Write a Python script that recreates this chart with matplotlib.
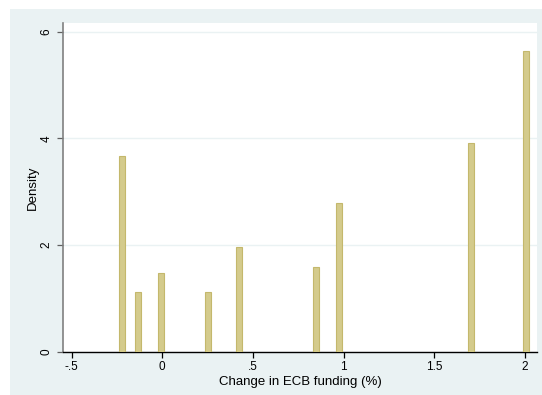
import matplotlib
matplotlib.use("Agg")
import matplotlib.pyplot as plt
from matplotlib.patches import Rectangle

# Data (bin centres and densities)
bin_centers = [-0.221, -0.133, -0.006, 0.250, 0.421, 0.849, 0.976, 1.704, 2.004]
densities = [3.67, 1.12, 1.48, 1.11, 1.96, 1.59, 2.79, 3.92, 5.64]
bin_width = 0.033

x_ticks = [-0.5, 0, 0.5, 1, 1.5, 2]
x_tick_labels = ["-.5", "0", ".5", "1", "1.5", "2"]
y_ticks = [0, 2, 4, 6]

plt.rcParams['font.family'] = ['Liberation Sans', 'DejaVu Sans']
plt.rcParams['font.size'] = 8.5

bg = '#eaf2f3'
fig = plt.figure(figsize=(5.42, 3.95), dpi=100, facecolor='white')
# light outer region (the picture has a thin white strip left and top)
fig.patches.append(Rectangle((10 / 542, 0), 1 - 10 / 542, 1 - 9 / 395,
                             transform=fig.transFigure, facecolor=bg,
                             edgecolor='none', zorder=-10))

ax = fig.add_axes([63.3 / 542, 1 - 351.7 / 395, (537.3 - 63.3) / 542, (351.7 - 23.3) / 395])
ax.set_facecolor('white')

ax.bar(bin_centers, densities, width=bin_width, color='#d4cb8c',
       edgecolor='#c4b86c', linewidth=0.8, zorder=3)

ax.set_xlim(-0.546, 2.068)
ax.set_ylim(0, 6.157)

ax.set_xticks(x_ticks)
ax.set_xticklabels(x_tick_labels)
ax.set_yticks(y_ticks)
ax.set_yticklabels([str(v) for v in y_ticks], rotation=90, va='center')

ax.yaxis.grid(True, color=bg, linewidth=1.0, zorder=0)
ax.xaxis.grid(False)

for side in ['top', 'right']:
    ax.spines[side].set_visible(False)
ax.spines['left'].set_color('#808080')
ax.spines['left'].set_linewidth(1.2)
ax.spines['bottom'].set_color('black')
ax.spines['bottom'].set_linewidth(1.0)

ax.tick_params(axis='x', length=4, width=0.9, color='black', pad=3, labelsize=8.5)
ax.tick_params(axis='y', length=4, width=0.9, color='#606060', pad=4, labelsize=8.5)

ax.set_xlabel("Change in ECB funding (%)", fontsize=9.5, labelpad=2)
ax.set_ylabel("Density", fontsize=9.5, labelpad=1)

fig.savefig("out.png", dpi=100, facecolor=fig.get_facecolor())
